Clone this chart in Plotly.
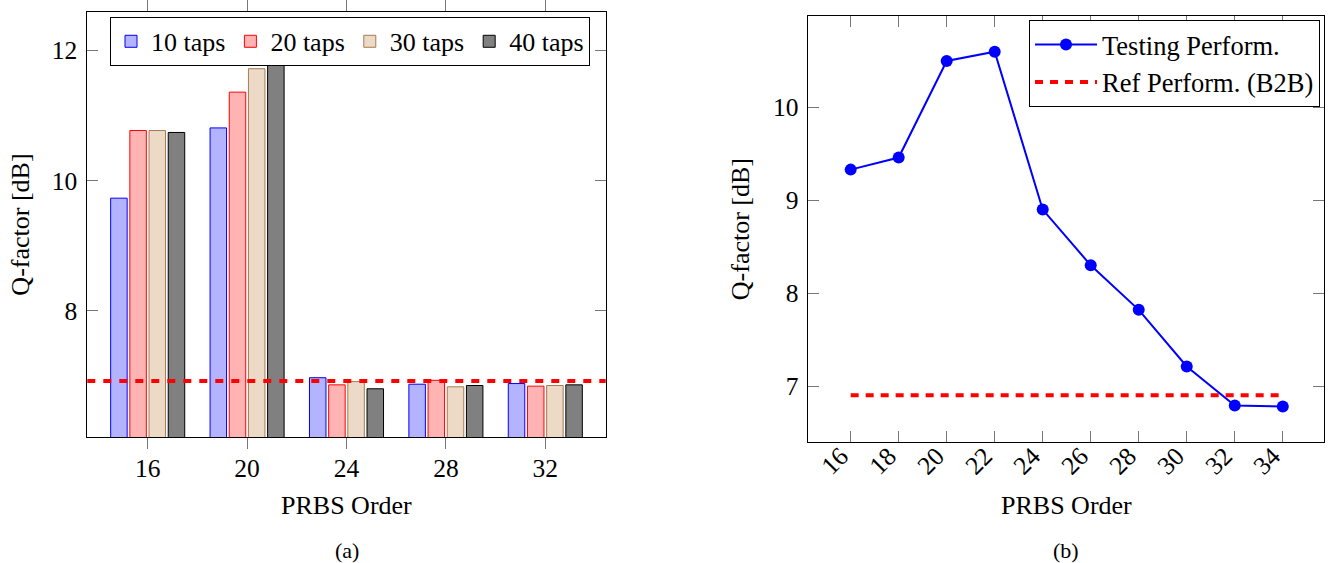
import plotly.graph_objects as go

# ---------------- data ----------------
prbs_orders_bar = [16, 20, 24, 28, 32]
q_10_taps = [9.73, 10.81, 6.97, 6.87, 6.88]
q_20_taps = [10.77, 11.36, 6.86, 6.93, 6.84]
q_30_taps = [10.77, 11.72, 6.91, 6.83, 6.85]
q_40_taps = [10.74, 11.83, 6.80, 6.85, 6.86]
ref_b2b_bar = 6.92
bar_names = ["10 taps", "20 taps", "30 taps", "40 taps"]

prbs_orders_line = [16, 18, 20, 22, 24, 26, 28, 30, 32, 34]
q_testing = [9.33, 9.46, 10.50, 10.60, 8.90, 8.30, 7.82, 7.21, 6.79, 6.78]
ref_b2b_line = 6.90

left_yticks = [8, 10, 12]
right_yticks = [7, 8, 9, 10]

# ---------------- styling ----------------
W, H = 1337, 563
FONT = "Liberation Serif, Times New Roman, serif"
FS = 26
FT = 25.5
fills = ["#B3B3FF", "#FFB3B3", "#ECD9C6", "#808080"]
edges = ["#0000FF", "#FF0000", "#A67C52", "#000000"]


def px_x(p):
    return p / W


def px_y(p):
    return 1 - p / H


fig = go.Figure()

series = [q_10_taps, q_20_taps, q_30_taps, q_40_taps]
for name, vals, fc, ec in zip(bar_names, series, fills, edges):
    fig.add_trace(go.Bar(
        x=prbs_orders_bar, y=vals, name=name,
        marker=dict(color=fc, line=dict(color=ec, width=1)),
        xaxis="x", yaxis="y", legend="legend",
    ))

fig.add_trace(go.Scatter(
    x=prbs_orders_line, y=q_testing, name="Testing Perform.",
    mode="lines+markers",
    line=dict(color="#0000FF", width=2),
    marker=dict(color="#0000FF", size=12),
    xaxis="x2", yaxis="y2", legend="legend2",
))
fig.add_trace(go.Scatter(
    x=[prbs_orders_line[0], prbs_orders_line[-1]],
    y=[ref_b2b_line, ref_b2b_line],
    name="Ref Perform. (B2B)", mode="lines",
    line=dict(color="#FF0000", width=4, dash="8px,7px"),
    xaxis="x2", yaxis="y2", legend="legend2",
))

fig.add_shape(type="line", xref="x domain", x0=0, x1=1, yref="y",
              y0=ref_b2b_bar, y1=ref_b2b_bar,
              line=dict(color="#FF0000", width=4, dash="8px,8px"))

tickfont = dict(family=FONT, size=FT, color="black")
common = dict(showline=True, linecolor="black", linewidth=1, mirror="allticks",
              showgrid=False, zeroline=False, tickfont=tickfont,
              tickcolor="#777777", tickwidth=1, ticklen=11)

fig.update_layout(
    width=W, height=H,
    margin=dict(l=0, r=0, t=0, b=0),
    paper_bgcolor="white", plot_bgcolor="white",
    barmode="group", bargap=0.228, bargroupgap=0.14,
    font=dict(family=FONT, size=FS, color="black"),
    xaxis=dict(domain=[px_x(87.3), px_x(605.7)], anchor="y",
               range=[13.57, 34.43], tickvals=prbs_orders_bar,
               ticks="outside", ticklabelstandoff=-3, **common),
    yaxis=dict(domain=[px_y(436), px_y(6)], anchor="x",
               range=[6.053, 12.593], tickvals=left_yticks,
               ticks="inside", ticklabelstandoff=4, **common),
    xaxis2=dict(domain=[px_x(807.7), px_x(1324.3)], anchor="y2",
                range=[14.21, 35.73], tickvals=prbs_orders_line,
                ticks="inside", tickangle=-45,
                ticklabelshift=-10, ticklabelstandoff=-12, **common),
    yaxis2=dict(domain=[px_y(440.7), px_y(10.5)], anchor="x2",
                range=[6.397, 10.98], tickvals=right_yticks,
                ticks="inside", ticklabelstandoff=3, **common),
    legend=dict(orientation="h", x=px_x(110), y=px_y(11),
                xanchor="left", yanchor="top",
                bordercolor="black", borderwidth=1, bgcolor="white",
                font=dict(family=FONT, size=FS, color="black"),
                itemwidth=30, traceorder="normal"),
    legend2=dict(x=px_x(1320), y=px_y(14), xanchor="right", yanchor="top",
                 bordercolor="black", borderwidth=1, bgcolor="white",
                 font=dict(family=FONT, size=26.5, color="black"),
                 itemwidth=62, traceorder="normal"),
    showlegend=True,
)

annots = [
    dict(text="Q-factor [dB]", x=px_x(21), y=px_y(221), textangle=-90),
    dict(text="Q-factor [dB]", x=px_x(740), y=px_y(225.6), textangle=-90),
    dict(text="PRBS Order", x=px_x(346.5), y=px_y(505)),
    dict(text="PRBS Order", x=px_x(1066), y=px_y(505)),
    dict(text="(a)", x=px_x(346.5), y=px_y(550), font=dict(family=FONT, size=22, color="black")),
    dict(text="(b)", x=px_x(1066), y=px_y(550), font=dict(family=FONT, size=22, color="black")),
]
for a in annots:
    a.setdefault("font", dict(family=FONT, size=FS, color="black"))
    fig.add_annotation(xref="paper", yref="paper", showarrow=False,
                       xanchor="center", yanchor="middle", **a)

fig.write_html(
    "out.html",
    config={"displayModeBar": False},
    post_script="document.body.style.margin='0';document.body.style.overflow='hidden';",
)
